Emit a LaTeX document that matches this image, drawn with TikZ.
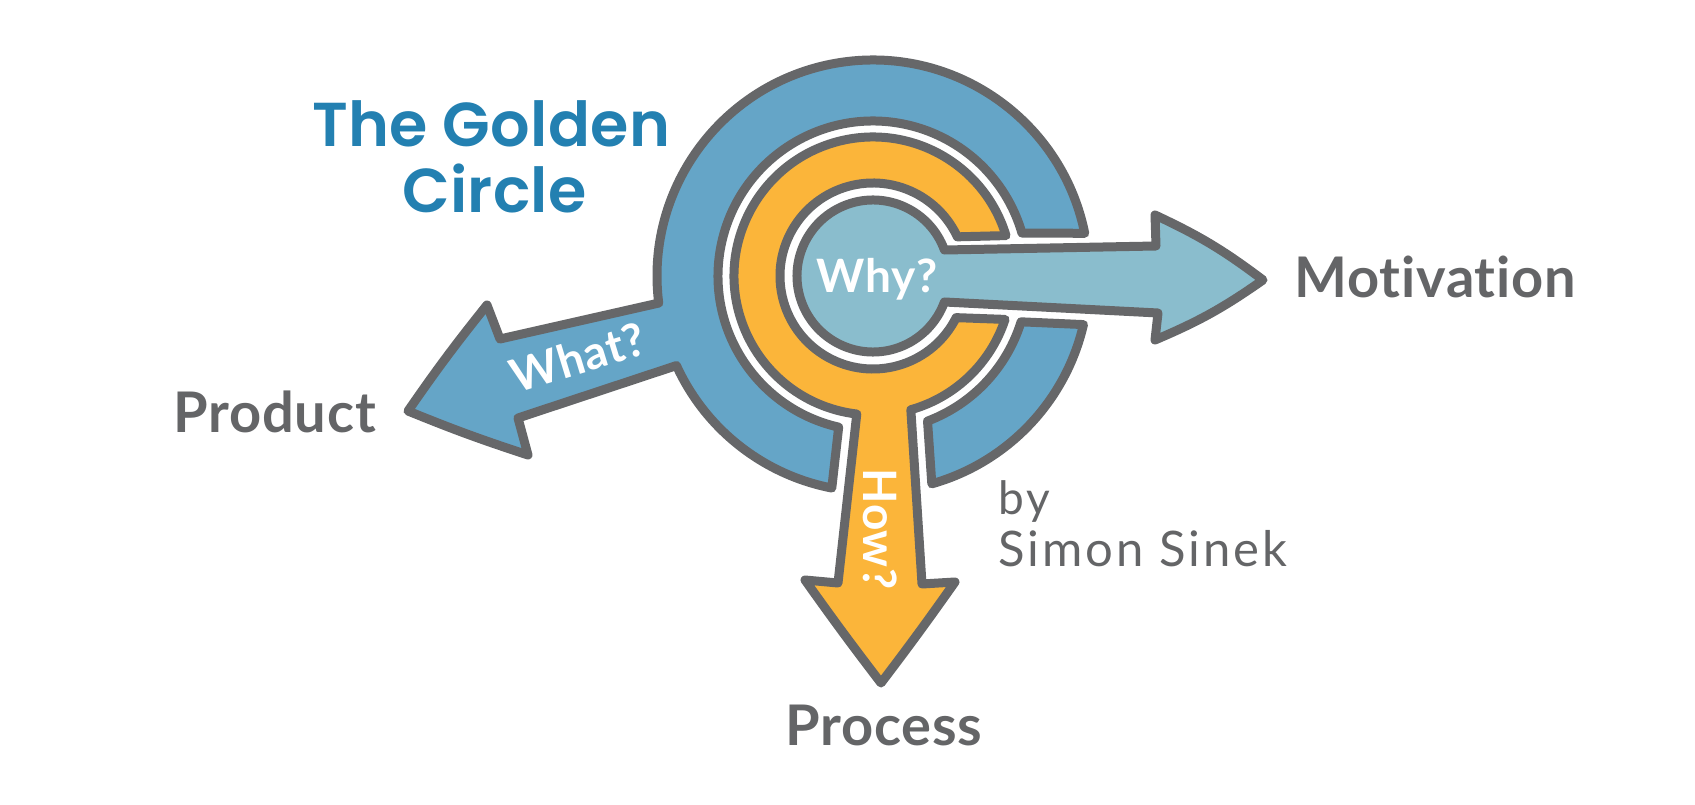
\documentclass[tikz,border=0pt]{standalone}
\usepackage{fontspec}
\setmainfont{Lato}
\newfontfamily\titlefont[LetterSpace=0.5]{Poppins SemiBold}
\newfontfamily\labelfont[LetterSpace=1.5,Ligatures=NoCommon]{Lato}
\newfontfamily\bylinefont[LetterSpace=6]{Lato}
\definecolor{ringgray}{HTML}{666769}
\definecolor{outerblue}{HTML}{65A5C7}
\definecolor{midorange}{HTML}{FBB53A}
\definecolor{innerblue}{HTML}{8ABDCD}
\definecolor{titleblue}{HTML}{2380B1}
\definecolor{textgray}{HTML}{646567}

\begin{document}
\begin{tikzpicture}[x=1pt,y=1pt,line join=round,
    ring/.style={draw=ringgray,line width=9pt},
    inside label/.style={text=white,inner sep=0pt,font=\fontsize{46}{46}\labelfont\bfseries\selectfont},
    outside label/.style={text=textgray,anchor=base west,inner sep=0pt,font=\fontsize{56}{56}\labelfont\bfseries\selectfont},
    byline/.style={text=textgray,anchor=base west,inner sep=0pt,font=\fontsize{49}{49}\bylinefont\selectfont},
    title label/.style={text=titleblue,anchor=base west,inner sep=0pt,font=\fontsize{62}{62}\titlefont\selectfont}]
    \useasboundingbox (0,0) rectangle (1695,804);
    \coordinate (cen) at (873,528);

    % outer ring with the left arrow
    \path[ring,fill=outerblue] ([shift={(11.4:216)}]cen) arc[start angle=11.4,end angle=187.2,radius=216pt]
        -- (500,465) -- (487,499) to[bend right=2] (408,393) to[bend right=2] (528,349) -- (518,386)
        -- ([shift={(204.5:216)}]cen) arc[start angle=204.5,end angle=259,radius=216pt]
        -- ([shift={(257.2:155)}]cen) arc[start angle=257.2,end angle=16.1,radius=155pt] -- cycle;
    \path[ring,fill=outerblue] ([shift={(-17.2:155)}]cen) arc[start angle=-17.2,end angle=-69.4,radius=155pt]
        -- ([shift={(-74.2:216)}]cen) arc[start angle=-74.2,end angle=-13,radius=216pt] -- cycle;

    % middle ring with the arrow going down
    \path[ring,fill=midorange] ([shift={(16.9:139)}]cen) arc[start angle=16.9,end angle=263.3,radius=139pt]
        -- (838,221) -- (805,224) to[bend right=1] (881,121) to[bend right=1] (955,222) -- (922,220)
        -- ([shift={(-74.2:139)}]cen) arc[start angle=-74.2,end angle=-18.2,radius=139pt]
        -- ([shift={(-26.6:93)}]cen) arc[start angle=-26.6,end angle=-335.1,radius=93pt] -- cycle;

    % inner circle with the right arrow
    \path[ring,fill=innerblue] ([shift={(20:76)}]cen) arc[start angle=20,end angle=340,radius=76pt]
        -- (1158,491) -- (1155,464) to[bend right=6] (1263,524) to[bend right=6] (1155,589) -- (1156,558) -- cycle;

    \node[inside label] (why) at (877,525) {Why?};
    \node[inside label,rotate=17] (what) at (578,447) {What?};
    \node[inside label,rotate=-90] (how) at (880,275) {How?};

    \node[outside label] (product) at (173,371) {Product};
    \node[outside label] (process) at (785,59) {Process};
    \node[outside label] (motivation) at (1294,506) {Motivation};
    \node[byline,font=\fontsize{46}{46}\bylinefont\selectfont] (by) at (998,289) {by};
    \node[byline] (simon) at (998,237) {Simon Sinek};

    \node[title label] (golden) at (312,657) {The Golden};
    \node[title label] (circle) at (402,591) {Circle};
\end{tikzpicture}
\end{document}
